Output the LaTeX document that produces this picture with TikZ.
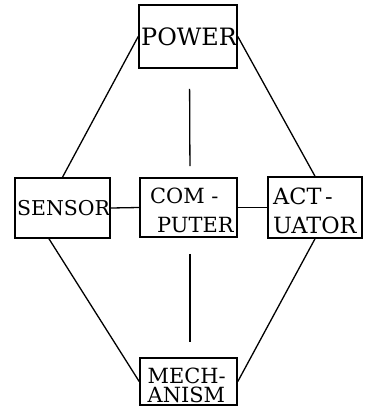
\documentclass[tikz,border=0pt]{standalone}
\usepackage{fontspec}
\setmainfont{DejaVu Serif}
\usetikzlibrary{calc}
\begin{document}
\begin{tikzpicture}[x=1bp,y=-1bp,
  box/.style={draw, line width=1.6bp, rectangle, inner sep=0pt},
  lbl/.style={inner sep=0pt, anchor=north west, align=left,
              font=\fontsize{21}{29}\selectfont},
  link/.style={line width=1.3bp}]
\useasboundingbox (0,0) rectangle (367,414);

% blocks
\node[box, minimum width=98bp, minimum height=63bp] (power) at (188,36.5) {};
\node[box, minimum width=95bp, minimum height=60bp] (sensor) at (62.5,208) {};
\node[box, minimum width=97bp, minimum height=59bp] (computer) at (188.5,207.5) {};
\node[box, minimum width=94bp, minimum height=61bp] (actuator) at (315,207.5) {};
\node[box, minimum width=97bp, minimum height=47bp] (mechanism) at (188.5,381.5) {};

% block texts
\node[lbl, font=\fontsize{24}{29}\selectfont] (power-t) at (141,28) {POWER};
\node[lbl, font=\fontsize{20.5}{29}\selectfont] (sensor-t) at (17,200) {SENSOR};
\node[lbl] (computer-t) at (150,188) {COM -\\\hspace*{7bp}PUTER};
\node[lbl, font=\fontsize{22.5}{28.5}\selectfont] (actuator-t) at (273,188) {ACT\,-\\UATOR};
\node[lbl, font=\fontsize{21}{19.5}\selectfont] (mechanism-t) at (147.5,367.5) {MECH-\\ANISM};

% connections
\coordinate (sensor-low) at ($(sensor.south west)!0.36!(sensor.south east)$);
\coordinate (power-mid) at ($(power.south)+(1.5,0)$);
\coordinate (computer-top) at ($(computer.north)+(1.5,0)$);
\coordinate (computer-bot) at ($(computer.south)+(1.5,0)$);
\coordinate (mechanism-top) at ($(mechanism.north)+(1.5,0)$);
\draw[link] (power.west) -- (sensor.north);
\draw[link] (power.east) -- (actuator.north);
\draw[link] (sensor.east) -- (computer.west);
\draw[link] (computer.east) -- (actuator.west);
\draw[link] (sensor-low) -- (mechanism.west);
\draw[link] (actuator.south) -- (mechanism.east);
\draw[link, shorten <=20bp, shorten >=11bp] (power-mid) -- (computer-top);
\draw[link, shorten <=16bp, shorten >=15bp] (computer-bot) -- (mechanism-top);
\end{tikzpicture}
\end{document}
